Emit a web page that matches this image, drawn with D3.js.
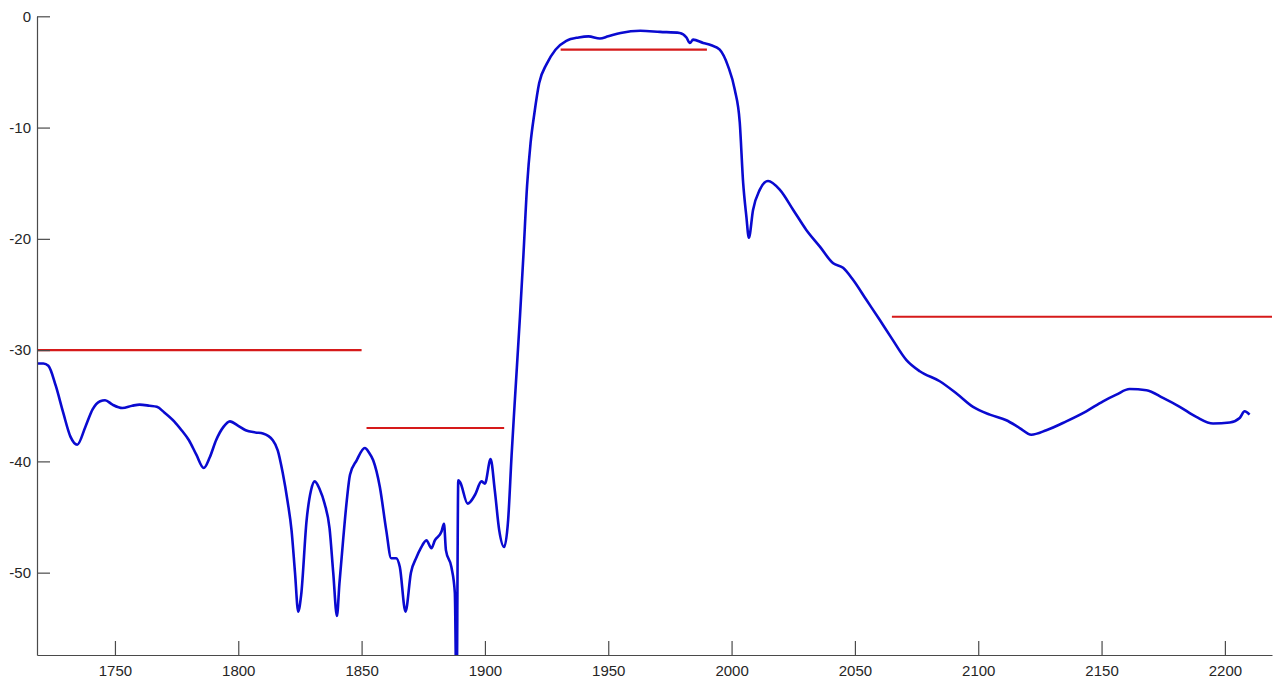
<!DOCTYPE html>
<html>
<head>
<meta charset="utf-8">
<script src="https://cdn.jsdelivr.net/npm/d3@7"></script>
<style>
    body { margin: 0; background: #fff; }
    .axis path, .axis line { stroke: #4a4a4a; stroke-width: 1.2px; }
    .axis text { font-family: Arial, "Liberation Sans", sans-serif; font-size: 15px; fill: #262626; }
</style>
</head>
<body>
<div id="chart"></div>
<script>
// measured response (MHz, dB)
var freq = [1718.4, 1721, 1723, 1726, 1729, 1732, 1734.7, 1738, 1741, 1744, 1746, 1749, 1753, 1757, 1760,
    1764, 1767, 1770, 1774, 1777, 1780, 1783, 1786, 1788.5, 1791, 1794, 1796.6, 1800, 1803, 1807, 1810,
    1814, 1816, 1818, 1820, 1821.6, 1823, 1824.3, 1825.5, 1827.7, 1829.5, 1831, 1833, 1835, 1837, 1838.5,
    1840, 1841, 1842.5, 1844, 1845.3, 1848, 1851.3, 1853, 1854.7, 1857.4, 1860, 1862, 1864, 1865.5, 1867.8,
    1870, 1872.3, 1874, 1876.3, 1878.3, 1879.7, 1882.4, 1883.4, 1884.2, 1886.4, 1887.8, 1888.5, 1889.2,
    1890, 1893, 1896, 1898.6, 1900, 1902.3, 1904, 1905.8, 1907.8, 1909.4, 1910.8, 1912, 1914.2, 1915.6,
    1917.1, 1918.5, 1920, 1922, 1925, 1928.6, 1933, 1938, 1942, 1946.6, 1950, 1955, 1963, 1971, 1979,
    1981.7, 1983.1, 1984.4, 1988.5, 1991.8, 1995.2, 1998.6, 2001.3, 2003.3, 2004.7, 2006, 2007, 2008.7,
    2011.4, 2014.8, 2019.6, 2025, 2030.3, 2035.8, 2041.2, 2045.2, 2049.3, 2054.7, 2060.1, 2064.8, 2070.9,
    2076.3, 2084.4, 2091.2, 2097.9, 2104.7, 2111.4, 2116.8, 2121.5, 2127.6, 2135.7, 2143.8, 2150.6, 2156,
    2161.4, 2168.2, 2174.9, 2181.7, 2188.4, 2195.2, 2202, 2206, 2208, 2210];
var level = [-31.2, -31.2, -31.4, -33.2, -35.6, -37.8, -38.5, -36.9, -35.3, -34.6, -34.5, -34.9, -35.2, -35.0, -34.9,
    -35.0, -35.1, -35.6, -36.4, -37.2, -38.1, -39.4, -40.6, -39.6, -38.1, -36.9, -36.4, -36.8, -37.2, -37.4, -37.5,
    -38.1, -39.0, -41.0, -43.6, -46.2, -50.0, -53.5, -52.0, -45.3, -42.6, -41.8, -42.5, -43.8, -46.0, -50.0,
    -53.9, -51.0, -47.1, -43.5, -41.2, -39.9, -38.8, -39.2, -39.9, -42.3, -46.2, -48.7, -48.7, -49.5, -53.5,
    -50.0, -48.6, -47.8, -47.1, -47.8, -47.1, -46.3, -45.6, -48.0, -49.5, -51.8, -62, -41.7,
    -41.9, -43.8, -43.0, -41.8, -42.0, -39.8, -42.6, -46.2, -47.7, -45.3, -39.5, -35.0, -27.0, -21.5,
    -15.2, -11.4, -8.8, -6.0, -4.3, -3.0, -2.2, -1.9, -1.8, -2.0, -1.8, -1.5, -1.3, -1.4, -1.5,
    -1.9, -2.4, -2.1, -2.4, -2.6, -3.0, -4.5, -6.6, -9.5, -15.0, -18.0, -19.9, -17.4,
    -15.6, -14.8, -15.6, -17.4, -19.2, -20.7, -22.2, -22.6, -23.7, -25.5, -27.3, -28.9, -30.9,
    -31.9, -32.8, -33.9, -35.1, -35.8, -36.3, -37.0, -37.6, -37.2, -36.4, -35.5, -34.6, -34.0,
    -33.5, -33.6, -34.3, -35.1, -36.0, -36.6, -36.5, -36.1, -35.5, -35.8];

// spec mask segments
var maskStart = [1710, 1852, 1930.7, 2065];
var maskEnd = [1850, 1907.8, 1990, 2225];
var maskLevel = [-30, -37, -3, -27];

var xTicks = [1750, 1800, 1850, 1900, 1950, 2000, 2050, 2100, 2150, 2200];
var yTicks = [0, -10, -20, -30, -40, -50];

var W = 1281, H = 677;
var mLeft = 37, mRight = 1272, mTop = 16.3, mBottom = 655;

var x = d3.scaleLinear().domain([1718.4, 2219.1]).range([mLeft, mRight]);
var y = d3.scaleLinear().domain([-57.4, 0]).range([mBottom, mTop]);

var svg = d3.select('#chart')
    .append('svg')
    .attr('width', W)
    .attr('height', H);

svg.append('defs').append('clipPath')
    .attr('id', 'plot')
    .append('rect')
    .attr('x', mLeft).attr('y', mTop)
    .attr('width', mRight - mLeft).attr('height', mBottom - mTop);

var pts = freq.map(function (f, i) {
    return [f, level[i]];
});

var line = d3.line()
    .x(function (d) { return x(d[0]); })
    .y(function (d) { return y(d[1]); })
    .curve(d3.curveMonotoneX);

var g = svg.append('g').attr('clip-path', 'url(#plot)');

g.selectAll('.mask')
    .data(maskLevel)
    .enter()
    .append('line')
    .attr('class', 'mask')
    .attr('x1', function (d, i) { return x(maskStart[i]); })
    .attr('x2', function (d, i) { return x(maskEnd[i]); })
    .attr('y1', function (d) { return y(d); })
    .attr('y2', function (d) { return y(d); })
    .attr('stroke', '#d61a1a')
    .attr('stroke-width', 2.2);

g.append('path')
    .datum(pts)
    .attr('d', line)
    .attr('fill', 'none')
    .attr('stroke', '#0a0ad0')
    .attr('stroke-width', 2.6)
    .attr('stroke-linejoin', 'round');

// axes, ticks point inward like matlab
svg.append('g')
    .attr('class', 'axis')
    .attr('transform', 'translate(0,' + mBottom + ')')
    .call(d3.axisBottom(x).tickValues(xTicks).tickSizeInner(-14).tickSizeOuter(0).tickPadding(7)
        .tickFormat(d3.format('d')))
    .call(function (a) { a.selectAll('text').attr('dy', '0.9em'); });

svg.append('g')
    .attr('class', 'axis')
    .attr('transform', 'translate(' + mLeft + ',0)')
    .call(d3.axisLeft(y).tickValues(yTicks).tickSizeInner(-13).tickSizeOuter(0).tickPadding(6)
        .tickFormat(function (d) { return d; }));
</script>
</body>
</html>
